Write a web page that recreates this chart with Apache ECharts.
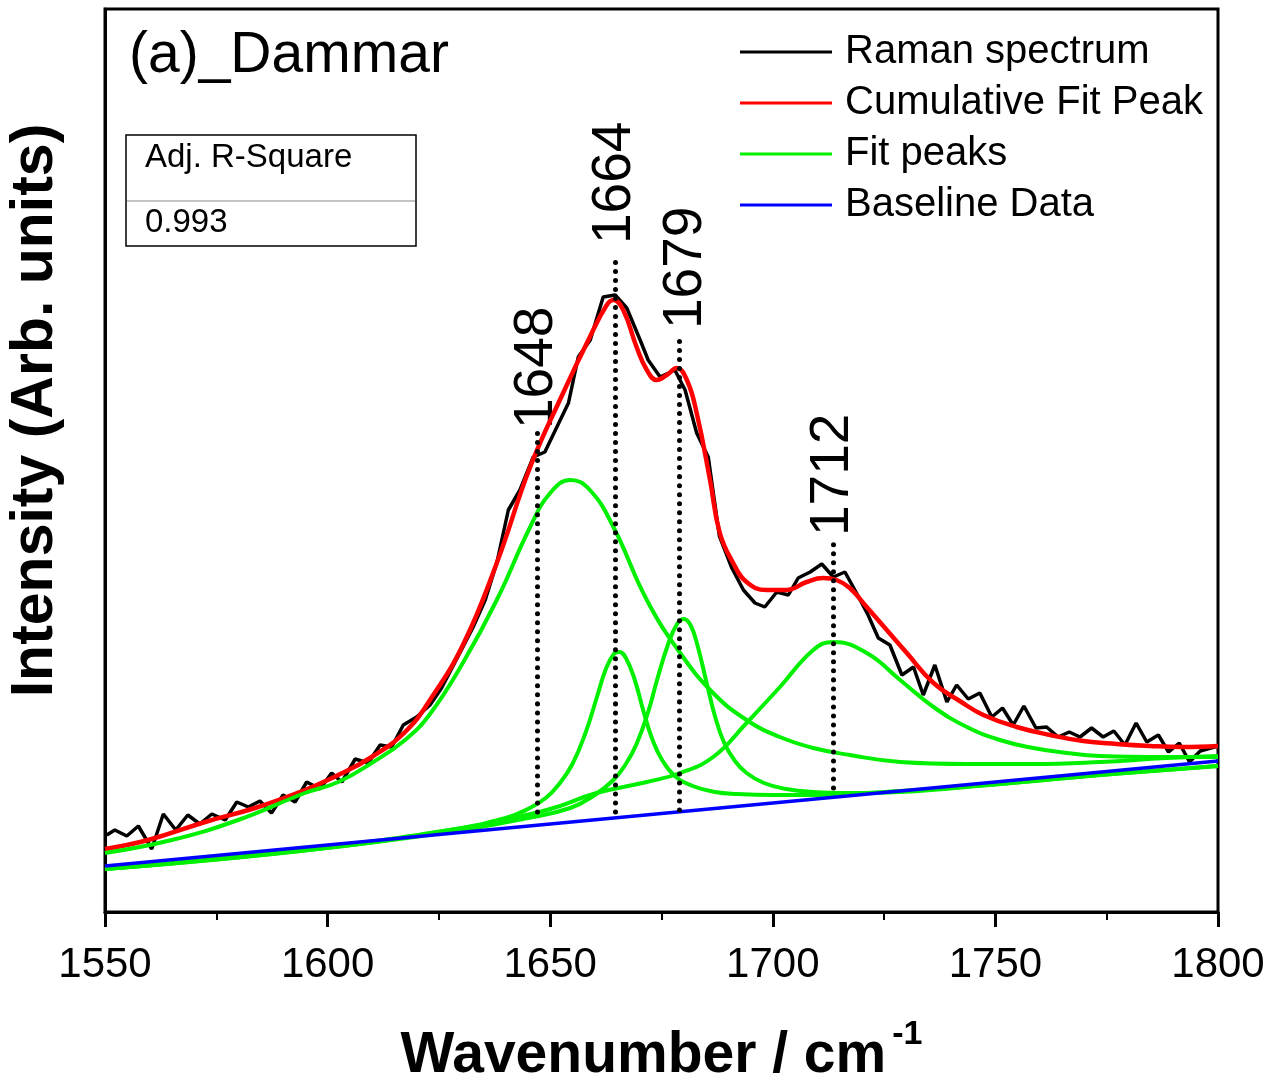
<!DOCTYPE html>
<html>
<head>
<meta charset="utf-8">
<script src="https://cdn.jsdelivr.net/npm/echarts@6/dist/echarts.min.js"></script>
<style>html,body{margin:0;padding:0;background:#fff}#c{width:1275px;height:1083px}</style>
</head>
<body>
<div id="c"></div>
<script>
// Raman spectrum (wavenumber, intensity arb.)
const spectrum = [
[1550.4,77],[1552.2,82],[1554.9,76],[1557.5,86],[1560.5,63],[1563.1,98],[1565.9,82],[1568.6,97],[1571.3,88],[1574.0,98],
[1577.0,92],[1579.6,110],[1582.2,105],[1584.8,111],[1587.4,99],[1590.0,117],[1592.7,110],[1595.3,130],[1598.3,123],[1600.9,139],
[1603.2,130],[1606.2,153],[1609.1,149],[1611.8,167],[1614.4,165],[1617.0,187],[1620.0,195],[1623.0,207],[1625.6,224],[1629.7,259],
[1632.7,285],[1635.4,312],[1638.0,349],[1640.6,402],[1643.2,422],[1646.2,455],[1648.8,460],[1651.5,485],[1654.1,509],[1656.3,555],
[1659.0,572],[1661.9,615],[1664.6,617],[1667.2,604],[1670.2,572],[1672.0,552],[1674.7,535],[1678.0,542],[1680.3,522],[1682.9,479],
[1685.5,455],[1688.0,376],[1690.8,344],[1693.4,322],[1696.0,309],[1698.2,305],[1700.9,320],[1703.5,317],[1705.7,334],[1708.4,340],
[1711.0,348],[1713.6,335],[1716.2,340],[1718.8,319],[1721.4,297],[1723.7,274],[1726.3,267],[1729.0,237],[1731.6,245],[1733.8,217],
[1736.4,247],[1739.1,210],[1741.3,227],[1743.9,213],[1746.5,219],[1749.2,195],[1751.6,204],[1754.0,187],[1756.4,206],[1759.1,184],
[1761.5,185],[1764.1,175],[1766.6,180],[1769.0,175],[1771.6,184],[1774.2,175],[1776.6,181],[1779.1,167],[1781.6,189],[1784.0,170],
[1786.6,177],[1788.9,160],[1791.3,169],[1793.6,150],[1796.0,161],[1800.0,166]
];
// Cumulative fit peak
const cumulative = [
[1550,63],[1559.7,72],[1572.5,90],[1583.7,104],[1594.9,122],[1602.4,137],[1609.9,155],[1617.4,180],[1623.0,212],[1630.5,268],
[1638.0,349],[1645.5,445],[1652.9,519],[1658.9,575],[1662.7,607],[1664.2,612],[1666.4,602],[1669.4,565],[1671.7,542],[1673.9,532],
[1676.2,537],[1678.4,544],[1680.7,532],[1682.9,499],[1685.9,432],[1688.1,379],[1691.1,349],[1694.1,330],[1698.6,322],[1703.1,322],
[1707.6,330],[1711.3,334],[1714.3,332],[1717.3,324],[1721.1,305],[1725.6,282],[1730.1,259],[1736.1,229],[1742.0,211],[1747.3,197],
[1754.8,185],[1762.3,177],[1769.7,171],[1777.2,168],[1784.7,166],[1792.2,165],[1800,166]
];
// Fit peaks (each drawn on its baseline)
const peak1654 = [
[1550,59],[1565.0,72],[1579.9,92],[1594.9,119],[1602.4,130],[1609.9,149],[1617.4,172],[1623.0,198],[1630.5,250],[1638.0,312],
[1645.5,385],[1650.0,419],[1654.5,432],[1658.9,422],[1664.2,385],[1671.7,312],[1679.2,259],[1686.6,219],[1694.1,192],[1701.6,175],
[1709.1,164],[1717.3,157],[1728.6,150],[1743.6,148],[1758.5,148],[1773.5,150],[1788.5,154],[1800,156]
];
const peak1665 = [
[1550,43],[1593.8,62],[1627.5,82],[1640,94],[1645,103],[1649,114],[1652,128],[1655,148],[1658,180],[1660.5,215],
[1662.5,243],[1664.3,258],[1665.5,260],[1667,254],[1669,232],[1671,200],[1673,172],[1675,153],[1678,136],[1682,126],
[1687,120],[1692,118],[1700,117],[1710,117],[1728.6,121],[1751.0,128],[1773.5,137],[1800,146]
];
const peak1679 = [
[1550,43],[1593.8,61],[1627.5,80],[1645,94],[1654.5,104],[1660,117],[1664.2,132],[1667,148],[1669.4,168],[1672,200],
[1674,232],[1676.5,268],[1678.5,288],[1680,293],[1681.5,287],[1683,268],[1685.2,228],[1687,196],[1689,170],[1691.5,151],
[1694.1,139],[1698,129],[1703,123],[1709.1,120],[1717.3,119],[1728.6,120],[1751.0,128],[1773.5,137],[1800,146]
];
const peak1714 = [
[1550,43],[1593.8,61],[1627.5,82],[1649.2,102],[1660.4,119],[1671.7,130],[1679.2,139],[1686.6,155],[1694.1,189],[1701.6,225],
[1709.1,262],[1713.6,270],[1721.1,259],[1728.6,232],[1736.1,205],[1743.6,185],[1751.0,172],[1758.5,164],[1766.0,159],[1773.5,156],
[1788.5,155],[1800,155]
];
// Baseline
const baseline = [[1550,46],[1800,151]];

// Peak position markers
const peakLabels = ['1648','1664','1679','1712'];
const peakLineX = [1647, 1664.6, 1679, 1713.5];
const peakLineTop = [481, 657, 577, 372];
const peakLineBottom = [100, 100, 102, 124];
const peakLabelX = [1647, 1664.6, 1680.5, 1713.5];
const peakLabelY = [483, 668, 583, 376];

const xTicks = [1550, 1600, 1650, 1700, 1750, 1800];
const legendNames = ['Raman spectrum','Cumulative Fit Peak','Fit peaks','Baseline Data'];
const rSquareTitle = 'Adj. R-Square';
const rSquareValue = '0.993';
const panelTitle = '(a)_Dammar';

const FONT = 'Liberation Sans, Arial, sans-serif';
const GREEN = '#00f000';
const chart = echarts.init(document.getElementById('c'), null, {renderer:'canvas'});

const markLineData = peakLineX.map((x, i) => [
  {coord:[x, peakLineBottom[i]]},
  {coord:[x, peakLineTop[i]]}
]);

function lineSeries(name, data, color, width, extra) {
  return Object.assign({
    name: name, type: 'line', data: data, showSymbol: false, symbol: 'none',
    smooth: false, lineStyle: {color: color, width: width}, itemStyle: {color: color},
    animation: false, silent: true
  }, extra || {});
}
const SM = {smooth: 0.45};

const option = {
  animation: false,
  backgroundColor: '#fff',
  grid: {left:105, right:57, top:9, bottom:171, show:true, borderColor:'#000', borderWidth:3,
         backgroundColor:'transparent', containLabel:false, outerBoundsMode:'none'},
  legend: {
    data: legendNames, left: 740, top: 29, orient: 'vertical', padding: 0,
    itemWidth: 92, itemHeight: 3, itemGap: 5, icon: 'rect',
    textStyle: {fontSize: 40, color: '#000', fontFamily: FONT, padding: [0,0,0,8], lineHeight: 46},
    selectedMode: false
  },
  xAxis: {
    type: 'value', min: xTicks[0], max: xTicks[xTicks.length-1], interval: 50,
    axisLine: {lineStyle: {color:'#000', width:3}},
    axisTick: {length: 15, lineStyle: {color:'#000', width:3}},
    minorTick: {show: true, splitNumber: 2, length: 8, lineStyle: {color:'#000', width:2}},
    splitLine: {show:false},
    axisLabel: {fontSize: 42, color:'#000', fontFamily: FONT, margin: 32, formatter: v => String(v)},
    name: '{a|Wavenumber / cm}{b|-1}',
    nameLocation: 'middle', nameGap: 106,
    nameTextStyle: {
      rich: {
        a: {fontSize: 57, fontWeight: 'bold', fontFamily: FONT, color:'#000', lineHeight: 76},
        b: {fontSize: 34, fontWeight: 'bold', fontFamily: FONT, color:'#000', lineHeight: 34, verticalAlign: 'top', padding:[0,0,0,6]}
      }
    }
  },
  yAxis: {
    type: 'value', min: 0, max: 903,
    axisLine: {show:true, lineStyle: {color:'#000', width:3}},
    axisTick: {show:false}, axisLabel: {show:false}, splitLine: {show:false},
    name: 'Intensity (Arb. units)', nameLocation: 'middle', nameGap: 40,
    nameTextStyle: {fontSize: 59, fontWeight:'bold', fontFamily: FONT, color:'#000', padding:[0,0,0,100]}
  },
  series: [
    lineSeries(legendNames[0], spectrum, '#000000', 3.5, {
      markLine: {
        silent: true, symbol: 'none', animation: false,
        label: {show:false},
        lineStyle: {color:'#000', width: 5, type: [0.01, 9], cap: 'round'},
        data: markLineData
      }
    }),
    lineSeries(legendNames[1], cumulative, '#ff0000', 4.5, SM),
    lineSeries(legendNames[2], peak1654, GREEN, 4, SM),
    lineSeries(legendNames[2], peak1665, GREEN, 4, SM),
    lineSeries(legendNames[2], peak1679, GREEN, 4, SM),
    lineSeries(legendNames[2], peak1714, GREEN, 4, SM),
    lineSeries(legendNames[3], baseline, '#0000ff', 3.5)
  ]
};
chart.setOption(option);

const graphics = [];
peakLabels.forEach((t, i) => {
  const p = chart.convertToPixel({gridIndex:0}, [peakLabelX[i], peakLabelY[i]]);
  graphics.push({
    type:'text', x: p[0], y: p[1], rotation: Math.PI/2, silent: true,
    style: {text: t, fontSize: 55, fontFamily: FONT, fill:'#000', align:'left', verticalAlign:'middle'}
  });
});
graphics.push({type:'text', left: 129, top: 28, silent:true,
  style:{text: panelTitle, fontSize: 57, fontFamily: FONT, fill:'#000'}});
graphics.push({type:'rect', shape:{x:126, y:135, width:290, height:111}, silent:true,
  style:{fill:'#fff', stroke:'#000', lineWidth:1.5}});
graphics.push({type:'line', shape:{x1:127, y1:201, x2:415, y2:201}, silent:true,
  style:{stroke:'#b0b0b0', lineWidth:1.5}});
graphics.push({type:'text', x:145, y:158, silent:true,
  style:{text: rSquareTitle, fontSize: 33, fontFamily: FONT, fill:'#000', verticalAlign:'middle'}});
graphics.push({type:'text', x:145, y:223, silent:true,
  style:{text: rSquareValue, fontSize: 33, fontFamily: FONT, fill:'#000', verticalAlign:'middle'}});
chart.setOption({graphic: graphics});
</script>
</body>
</html>
